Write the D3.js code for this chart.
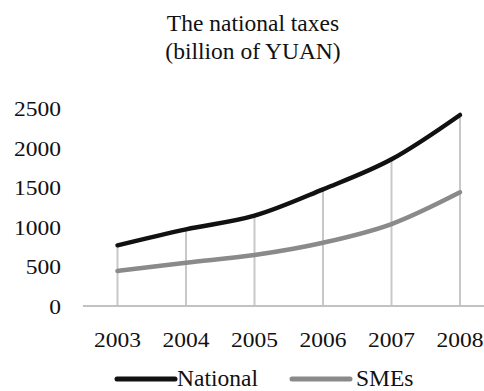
<!DOCTYPE html>
<html>
<head>
<meta charset="utf-8">
<script src="https://cdn.jsdelivr.net/npm/d3@7/dist/d3.min.js"></script>
<style>
  html, body { margin: 0; padding: 0; background: #fff; }
  svg { display: block; }
  text { font-family: "Liberation Serif", "Times New Roman", serif; fill: #111; }
</style>
</head>
<body>
<svg id="chart" width="484" height="391"></svg>
<script>
// National tax revenue vs. SME contribution, billion yuan
const years = ["2003", "2004", "2005", "2006", "2007", "2008"];
const nationalValues = [766, 968, 1140, 1473, 1852, 2412];
const smeValues = [442, 547, 644, 799, 1035, 1436];
const yTicks = [0, 500, 1000, 1500, 2000, 2500];
const titleLines = ["The national taxes", "(billion of YUAN)"];
const seriesNames = ["National", "SMEs"];

const svg = d3.select("#chart");

const x = d3.scalePoint().domain(years).range([117.5, 460]);
const y = d3.scaleLinear().domain([0, 2500]).range([306, 108]);

// Numbers are set slightly wide
const numStretch = 1.12;

// Title
svg.selectAll("text.title")
  .data(titleLines)
  .join("text")
  .attr("class", "title")
  .attr("x", 253)
  .attr("y", (d, i) => 31 + i * 27.5)
  .attr("text-anchor", "middle")
  .style("font-size", "23.5px")
  .text(d => d);

// Drop lines from the top series down to the axis
svg.append("g")
  .selectAll("line")
  .data(years)
  .join("line")
  .attr("x1", d => x(d))
  .attr("x2", d => x(d))
  .attr("y1", (d, i) => y(nationalValues[i]))
  .attr("y2", y(0))
  .attr("stroke", "#c8c8c8")
  .attr("stroke-width", 2);

// Category axis baseline
svg.append("line")
  .attr("x1", 83).attr("x2", 484)
  .attr("y1", y(0)).attr("y2", y(0))
  .attr("stroke", "#c2c2c2")
  .attr("stroke-width", 2);

// Value axis labels
svg.append("g")
  .selectAll("text")
  .data(yTicks)
  .join("text")
  .attr("transform", d => `translate(61,${y(d) + 8}) scale(${numStretch},1)`)
  .attr("text-anchor", "end")
  .style("font-size", "21px")
  .text(d => d);

// Year labels
svg.append("g")
  .selectAll("text")
  .data(years)
  .join("text")
  .attr("transform", d => `translate(${x(d)},347) scale(${numStretch},1)`)
  .attr("text-anchor", "middle")
  .style("font-size", "21px")
  .text(d => d);

// Series lines
const line = d3.line()
  .x((d, i) => x(years[i]))
  .y(d => y(d))
  .curve(d3.curveMonotoneX);

const series = [
  { name: seriesNames[0], values: nationalValues, color: "#111111" },
  { name: seriesNames[1], values: smeValues, color: "#8a8a8a" }
];

svg.append("g")
  .selectAll("path")
  .data(series.slice().reverse())
  .join("path")
  .attr("d", d => line(d.values))
  .attr("fill", "none")
  .attr("stroke", d => d.color)
  .attr("stroke-width", 4.5)
  .attr("stroke-linecap", "round")
  .attr("stroke-linejoin", "round");

// Legend
const legendPos = [117, 292];
const legend = svg.append("g")
  .selectAll("g")
  .data(series)
  .join("g")
  .attr("transform", (d, i) => `translate(${legendPos[i]},379)`);

legend.append("line")
  .attr("x1", 0).attr("x2", 58)
  .attr("y1", 0).attr("y2", 0)
  .attr("stroke", d => d.color)
  .attr("stroke-width", 5)
  .attr("stroke-linecap", "round");

legend.append("text")
  .attr("x", (d, i) => i === 0 ? 60 : 64)
  .attr("y", 7)
  .style("font-size", "23.5px")
  .text(d => d.name);
</script>
</body>
</html>
